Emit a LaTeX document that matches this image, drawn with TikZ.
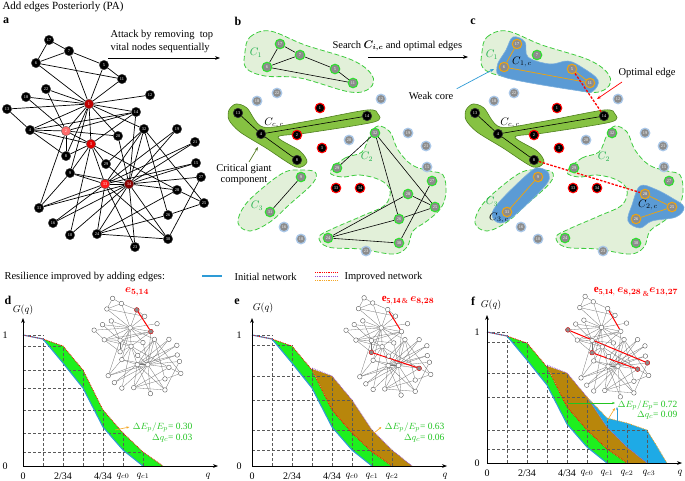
\documentclass[tikz,border=0pt]{standalone}
\usepackage{fontspec}
\setmainfont{Liberation Serif}
\usepackage{amsmath}
\usepackage{amssymb}
\usepackage{tikz}
\usetikzlibrary{arrows.meta}
\usetikzlibrary{positioning}
\pgfdeclarelayer{blobs}
\pgfdeclarelayer{links}
\pgfsetlayers{blobs,links,main}
\definecolor{redA}{HTML}{C00000}
\definecolor{redB}{HTML}{FF6A6A}
\definecolor{redC}{HTML}{E00000}
\definecolor{redD}{HTML}{FF1A1A}
\definecolor{redE}{HTML}{8B0000}
\definecolor{nodegray}{HTML}{8C8C8C}
\definecolor{ringgreen}{HTML}{2EE02E}
\definecolor{ringblue}{HTML}{A9C7E8}
\definecolor{ringorange}{HTML}{E8A317}
\definecolor{blobgreen}{HTML}{E2F0D9}
\definecolor{blobdark}{HTML}{86C242}
\definecolor{blobdarkedge}{HTML}{4F7F1F}
\definecolor{blobblue}{HTML}{5B9BD5}
\definecolor{dashgreen}{HTML}{3DCC3D}
\definecolor{fillgreen}{HTML}{1EF01E}
\definecolor{fillbrown}{HTML}{B8860B}
\definecolor{fillblue}{HTML}{1EAAE6}
\definecolor{lineblue}{HTML}{2E9BD6}
\definecolor{linepurple}{HTML}{9B59D0}
\definecolor{lineorange}{HTML}{F5A623}
\definecolor{txtgreen}{HTML}{22C422}
\definecolor{labgreen}{HTML}{1DB04A}
\definecolor{olive}{HTML}{5A7F2A}
\tikzset{knode/.style = {circle, inner sep=0, minimum size=9.5pt,
                         font=\fontsize{4.3}{4.5}\selectfont, text=white}}
\tikzset{anode/.style = {knode, draw=black!70, line width=0.3pt}}
\tikzset{remnode/.style = {knode, fill=black, draw=red, line width=1.1pt}}
\tikzset{gntnode/.style = {knode, fill=black, draw=black!80, line width=0.6pt}}
\tikzset{cmpnode/.style = {knode, fill=nodegray, draw=ringgreen, line width=1.1pt}}
\tikzset{isonode/.style = {knode, fill=nodegray, draw=ringblue, line width=1.3pt}}
\tikzset{cornode/.style = {knode, fill=nodegray, draw=ringorange, line width=1.1pt}}
\tikzset{inode/.style = {circle, inner sep=0, minimum size=4.6pt, fill=white,
                         draw=black!70, line width=0.35pt}}
\tikzset{hinode/.style = {inode, fill=nodegray, draw=red}}
\tikzset{kedge/.style = {line width=0.7pt}}
\tikzset{iedge/.style = {black!55, line width=0.3pt}}
\tikzset{hedge/.style = {red, line width=1pt}}
\tikzset{optedge/.style = {red, line width=1.3pt, dash pattern=on 2.5pt off 1.5pt}}
\tikzset{coreedge/.style = {ringorange, line width=0.8pt}}
\tikzset{lblob/.style = {fill=blobgreen, draw=dashgreen, line width=0.8pt,
                         dash pattern=on 5pt off 2.5pt}}
\tikzset{gblob/.style = {fill=blobdark, draw=blobdarkedge, line width=0.6pt}}
\tikzset{bblob/.style = {fill=blobblue, draw=blobblue!80!white, line width=0.6pt}}
\tikzset{lbl/.style = {font=\fontsize{10.5}{13}\selectfont}}
\tikzset{plabel/.style = {font=\fontsize{12}{12}\bfseries\selectfont}}
\tikzset{ticklbl/.style = {font=\fontsize{10}{11}\selectfont}}
\tikzset{gridline/.style = {black!65, line width=0.5pt, dash pattern=on 3pt off 2pt}}
\tikzset{axis/.style = {line width=0.6pt, -{Stealth[length=5pt]}}}
\tikzset{initcurve/.style = {lineblue, line width=1.1pt}}
\tikzset{redcurve/.style = {red, line width=0.8pt, densely dotted}}
\tikzset{purcurve/.style = {linepurple, line width=0.8pt, densely dotted}}
\tikzset{orcurve/.style = {lineorange, line width=0.8pt, densely dotted}}
\tikzset{annot/.style = {font=\fontsize{9.5}{10}\selectfont, text=txtgreen}}

% id / x / y (panel b) / fill in a / style in b / style in c
\def\kposlist{1/320/108/redA/remnode/remnode,2/297/135/redB/remnode/remnode,%
3/322/148/redC/remnode/remnode,4/261/134/black/gntnode/gntnode,%
5/335/69/black/cmpnode/cornode,6/267/67/black/cmpnode/cornode,%
7/300/55/black/cmpnode/cmpnode,8/297/160/black/gntnode/gntnode,%
9/301/177/black/cmpnode/cornode,10/301/239/black/isonode/isonode,%
11/353/83/black/cmpnode/cornode,12/381/99/black/isonode/isonode,%
13/238/113/black/gntnode/gntnode,14/367/116/black/gntnode/gntnode,%
15/427/167/black/isonode/isonode,16/284/227/black/isonode/isonode,%
17/280/44/black/cmpnode/cornode,18/257/101/black/isonode/isonode,%
19/408/133/black/isonode/isonode,20/349/140/black/isonode/isonode,%
21/426/146/black/isonode/isonode,22/277/93/black/isonode/isonode,%
23/366/251/black/isonode/isonode,24/328/238/black/cmpnode/cmpnode,%
25/435/207/black/cmpnode/cornode,26/399/219/black/cmpnode/cornode,%
27/432/181/black/cmpnode/cmpnode,28/408/194/black/cmpnode/cornode,%
29/337/168/black/cmpnode/cmpnode,30/399/243/black/cmpnode/cmpnode,%
31/270/212/black/cmpnode/cornode,32/375/133/black/cmpnode/cmpnode,%
33/336/188/redD/remnode/remnode,34/360/188/redE/remnode/remnode}
\def\kedges{1/2,1/3,1/4,1/5,1/6,1/7,1/8,1/9,1/11,1/12,1/13,1/14,1/18,1/20,1/22,1/32,%
2/3,2/4,2/8,2/14,2/18,2/20,2/22,2/31,3/4,3/8,3/9,3/10,3/14,3/28,3/29,3/33,%
4/8,4/13,4/14,5/7,5/11,6/7,6/11,6/17,7/17,9/31,9/33,9/34,10/34,14/34,%
15/33,15/34,16/33,16/34,19/33,19/34,20/34,21/33,21/34,23/33,23/34,%
24/26,24/28,24/30,24/33,24/34,25/26,25/28,25/32,26/32,27/30,27/34,28/34,%
29/32,29/34,30/33,30/34,31/33,31/34,32/33,32/34,33/34}
\def\blobCone{(245,52) (250,37) (270,31) (305,45) (352,60) (372,75) (370,88)
  (350,92) (300,78) (265,76) (246,68)}
\def\blobCtwo{(330,172) (345,158) (362,152) (370,135) (378,126) (390,132) (398,150)
  (412,165) (430,171) (443,175) (446,192) (441,208) (427,221) (413,231) (407,247)
  (393,254) (360,249) (328,247) (319,237) (332,229) (362,216) (385,205) (390,190)
  (380,180) (360,175) (342,177)}
\def\blobCthree{(300,170) (315,172) (313,183) (290,204) (270,222) (250,231) (238,223)
  (245,205) (265,186) (285,172)}
\def\blobGiant{(229,110) (236,104) (247,108) (263,127) (303,122) (367,110) (378,114)
  (374,122) (307,133) (278,137) (300,151) (307,162) (296,167) (266,148) (240,132) (229,120)}

\begin{document}
\begin{tikzpicture}[x=1pt, y=-1pt]
  \useasboundingbox (0,0) rectangle (685,480);

  % headings and panel letters
  \node[anchor=west, font=\fontsize{11}{13}\selectfont] (title) at (-1,7) {Add edges Posteriorly (PA)};
  \node[plabel] (pa) at (6,21) {a};
  \node[plabel] (pb) at (238,21) {b};
  \node[plabel] (pc) at (473,22) {c};
  \node[plabel] (pd) at (8,300) {d};
  \node[plabel] (pe) at (237,302) {e};
  \node[plabel] (pf) at (473,301) {f};

  % panel a
  \foreach \i/\x/\y/\ac/\bs/\cs in \kposlist
    \node[anode, fill=\ac] (a\i) at (\x-231,\y-4) {\i};
  \begin{pgfonlayer}{links}
    \foreach \u/\v in \kedges
      \draw[kedge] (a\u) -- (a\v);
  \end{pgfonlayer}
  \node[lbl, anchor=north west, align=left] (attack) at (107,27)
    {Attack by removing~ top\\vital nodes sequentially};
  \coordinate (attS) at (108,58);
  \coordinate (attE) at (220,58);
  \draw[-{Stealth[length=5pt]}, line width=0.6pt] (attS) -- (attE);

  % panel b
  \foreach \i/\x/\y/\ac/\bs/\cs in \kposlist
    \node[\bs] (b\i) at (\x,\y) {\i};
  \begin{pgfonlayer}{links}
    \foreach \u/\v in {5/7,5/11,6/7,6/11,6/17,7/17,4/8,4/13,4/14,9/31,24/26,24/28,
                       24/30,25/26,25/28,25/32,26/32,27/30,29/32}
      \draw[line width=0.6pt] (b\u) -- (b\v);
  \end{pgfonlayer}
  \begin{pgfonlayer}{blobs}
    \path[lblob] plot[smooth cycle, tension=0.6] coordinates {\blobCone};
    \path[lblob] plot[smooth cycle, tension=0.6] coordinates {\blobCtwo};
    \path[lblob] plot[smooth cycle, tension=0.6] coordinates {\blobCthree};
    \path[gblob] plot[smooth cycle, tension=0.5] coordinates {\blobGiant};
  \end{pgfonlayer}
  \node[lbl, text=labgreen] (bC1) at (256,53) {$C_1$};
  \node[lbl] (bCc) at (274,123) {$C_{c,\,c}$};
  \node[lbl, text=labgreen] (bC2) at (367,157) {$C_2$};
  \node[lbl, text=labgreen] (bC3) at (257,206) {$C_3$};
  \node[lbl, align=center] (crit) at (244,174) {Critical giant\\[-2pt]component};
  \coordinate (critS) at (249,162);
  \coordinate (critE) at (258,147);
  \draw[-{Stealth[length=4pt]}, olive, line width=0.7pt] (critS) -- (critE);
  \node[lbl, anchor=west] (search) at (329,46) {Search $\boldsymbol{C_{i,c}}$ and optimal edges};
  \coordinate (srchS) at (368,57);
  \coordinate (srchE) at (468,57);
  \draw[-{Stealth[length=5pt]}, line width=0.6pt] (srchS) -- (srchE);

  % panel c
  \foreach \i/\x/\y/\ac/\bs/\cs in \kposlist
    \node[\cs] (c\i) at (\x+237,\y) {\i};
  \begin{pgfonlayer}{links}
    \foreach \u/\v in {4/8,4/13,4/14}
      \draw[line width=0.6pt] (c\u) -- (c\v);
    \foreach \u/\v in {5/11,6/11,6/17,9/31,25/26,25/28}
      \draw[coreedge] (c\u) -- (c\v);
    \draw[optedge] (c5) -- (c14);
    \draw[optedge] (c8) -- (c28);
  \end{pgfonlayer}
  \begin{pgfonlayer}{blobs}
    \begin{scope}[shift={(237,0)}]
      \path[lblob] plot[smooth cycle, tension=0.6] coordinates {\blobCone};
      \path[lblob] plot[smooth cycle, tension=0.6] coordinates {\blobCtwo};
      \path[lblob] plot[smooth cycle, tension=0.6] coordinates {\blobCthree};
      \path[gblob] plot[smooth cycle, tension=0.5] coordinates {\blobGiant};
    \end{scope}
    \path[bblob] plot[smooth cycle, tension=0.6] coordinates {(513,37) (525,42) (528,57)
      (550,64) (568,61) (583,68) (598,80) (593,91) (580,91) (507,78) (497,67) (506,50)};
    \path[bblob] plot[smooth cycle, tension=0.6] coordinates {(640,186) (655,189) (672,198)
      (684,207) (676,217) (652,221) (640,228) (628,221) (632,205)};
    \path[bblob] plot[smooth cycle, tension=0.6] coordinates {(540,168) (549,174) (545,186)
      (515,215) (500,223) (492,215) (500,201) (530,172)};
  \end{pgfonlayer}
  \node[lbl, text=labgreen] (cC1) at (492,55) {$C_1$};
  \node[lbl] (cC1c) at (522,62) {$C_{1,\,c}$};
  \node[lbl] (cCc) at (510,123) {$C_{c,\,c}$};
  \node[lbl, text=labgreen] (cC2) at (604,157) {$C_2$};
  \node[lbl] (cC2c) at (648,205) {$C_{2,\,c}$};
  \node[lbl, text=labgreen] (cC3) at (492,202) {$C_3$};
  \node[lbl] (cC3c) at (499,218) {$C_{3,\,c}$};
  \node[lbl] (weak) at (431,96) {Weak core};
  \coordinate (weakE) at (494,69);
  \draw[-{Stealth[length=4pt]}, lineblue, line width=0.7pt] (weak.north east) -- (weakE);
  \node[lbl] (optim) at (647,73) {Optimal edge};
  \coordinate (optE) at (597,99);
  \draw[-{Stealth[length=4pt]}, red, line width=0.7pt] (622,82) -- (optE);

  % legend
  \node[lbl, anchor=west] (leg) at (1,277) {Resilience improved by adding edges:};
  \coordinate (legA) at (202,276);
  \coordinate (legB) at (222,276);
  \draw[initcurve] (legA) -- (legB);
  \node[lbl, anchor=west] (legI) at (231,277) {Initial network};
  \draw[redcurve] (315,272) -- (337,272);
  \draw[purcurve] (315,276) -- (337,276);
  \draw[orcurve] (315,280) -- (337,280);
  \node[lbl, anchor=west] (legP) at (341,277) {Improved network};

  % insets
  \foreach \i/\x/\y/\ac/\bs/\cs in \kposlist {
    \node[inode] (d\i) at (91+0.44*\x-101.6, 280+0.46*\y-1.84) {};
    \node[inode] (e\i) at (343+0.43*\x-99.3, 279+0.47*\y-1.88) {};
    \node[inode] (f\i) at (565+0.41*\x-94.7, 277+0.485*\y-1.94) {};
  }
  \begin{pgfonlayer}{links}
    \foreach \u/\v in \kedges {
      \draw[iedge] (d\u) -- (d\v);
      \draw[iedge] (e\u) -- (e\v);
      \draw[iedge] (f\u) -- (f\v);
    }
    \draw[hedge] (d5) -- (d14);
    \draw[hedge] (e5) -- (e14);
    \draw[hedge] (e8) -- (e28);
    \draw[hedge] (f5) -- (f14);
    \draw[hedge] (f8) -- (f28);
    \draw[hedge] (f13) -- (f27);
  \end{pgfonlayer}
  \node[hinode] (d5h) at (d5) {};
  \node[hinode] (d14h) at (d14) {};
  \node[hinode] (e8h) at (e8) {};
  \node[hinode] (e28h) at (e28) {};
  \node[hinode] (f13h) at (f13) {};
  \node[hinode] (f27h) at (f27) {};
  \node[hinode] (f8h) at (f8) {};
  \node[hinode] (f28h) at (f28) {};
  \node[text=red, font=\fontsize{11}{12}\selectfont] (dtag) at (137,292) {$\boldsymbol{e_{5,14}}$};
  \node[text=red, font=\fontsize{11}{12}\selectfont] (etag) at (408,301)
    {$\mathbf{e}_{\mathbf{5,14\,\&}}\,\boldsymbol{e_{8,28}}$};
  \node[text=red, font=\fontsize{11}{12}\selectfont] (ftag) at (636,292)
    {$\mathbf{e}_{\mathbf{5,14,}}\,\boldsymbol{e_{8,28}}_{\,\&}\boldsymbol{e_{13,27}}$};

  % panel d
  \begin{scope}[shift={(23,466)}, yscale=-1]
    \fill[fillgreen] (20,127) -- (40,120) -- (60,96) -- (80,56) -- (100,33) -- (120,14) -- (140,0)
      -- (120,0) -- (100,16) -- (80,39) -- (60,78) -- (40,103) -- cycle;
    \foreach \k/\v in {20/131,40/120,60/96,80/56,100/33,120/14}
      \draw[gridline] (\k,0) -- (\k,\v);
    \foreach \k/\v in {20/131,40/120,60/96,60/78,80/56,100/33,120/14}
      \draw[gridline] (0,\v) -- (\k,\v);
    \draw[initcurve] (0,131) -- (20,127) -- (40,103) -- (60,78) -- (80,39) -- (100,16) -- (120,0);
    \draw[redcurve] (0,131) -- (20,127) -- (40,120) -- (60,96) -- (80,56) -- (100,33)
      -- (120,14) -- (140,0);
    \draw[axis] (0,0) -- (195,0);
    \draw[axis] (0,0) -- (0,148);
    \node[ticklbl] (dG) at (0,156) {$G(q)$};
    \node[ticklbl] (d1l) at (-18,131) {1};
    \node[ticklbl] (d0l) at (-18,0) {0};
    \node[ticklbl] (dx0) at (0,-10) {0};
    \node[ticklbl] (dx2) at (40,-10) {2/34};
    \node[ticklbl] (dx4) at (80,-10) {4/34};
    \node[ticklbl] (dxc0) at (100,-10) {$q_{c0}$};
    \node[ticklbl] (dxc1) at (120,-10) {$q_{c1}$};
    \node[ticklbl] (dxq) at (185,-10) {$q$};
    \node[annot, anchor=east] (dEp) at (173,39) {$\Delta E_p/E_p$= 0.30};
    \node[annot, anchor=east] (dqc) at (173,28) {$\Delta q_c$= 0.03};
    \coordinate (dArr) at (dEp.west);
    \draw[-{Stealth[length=3pt]}, lineorange, line width=0.6pt] (92,36) -- (dArr);
  \end{scope}

  % panel e
  \begin{scope}[shift={(252,466)}, yscale=-1]
    \fill[fillgreen] (20,127) -- (40,120) -- (60,96) -- (80,56) -- (100,33) -- (120,14) -- (140,0)
      -- (120,0) -- (100,16) -- (80,39) -- (60,78) -- (40,103) -- cycle;
    \fill[fillbrown] (60,97) -- (80,90) -- (100,66) -- (120,36) -- (140,16) -- (160,0)
      -- (140,0) -- (120,14) -- (100,33) -- (80,56) -- cycle;
    \foreach \k/\v in {20/131,40/121,60/98,80/90,100/66,120/36,140/16}
      \draw[gridline] (\k,0) -- (\k,\v);
    \foreach \k/\v in {20/131,40/121,80/90,100/66,120/36,140/16}
      \draw[gridline] (0,\v) -- (\k,\v);
    \draw[initcurve] (0,131) -- (20,127) -- (40,103) -- (60,78) -- (80,39) -- (100,16) -- (120,0);
    \draw[redcurve] (0,131) -- (20,127) -- (40,120) -- (60,96) -- (80,56) -- (100,33)
      -- (120,14) -- (140,0);
    \draw[purcurve] (60,98) -- (80,90) -- (100,66) -- (120,36) -- (140,16) -- (160,0);
    \draw[axis] (0,0) -- (195,0);
    \draw[axis] (0,0) -- (0,148);
    \node[ticklbl] (eG) at (11,158) {$G(q)$};
    \node[ticklbl] (e1l) at (-13,131) {1};
    \node[ticklbl] (e0l) at (-13,0) {0};
    \node[ticklbl] (ex0) at (0,-10) {0};
    \node[ticklbl] (ex2) at (40,-10) {2/34};
    \node[ticklbl] (ex4) at (80,-10) {4/34};
    \node[ticklbl] (exc0) at (100,-10) {$q_{c0}$};
    \node[ticklbl] (exc1) at (120,-10) {$q_{c1}$};
    \node[ticklbl] (exc2) at (140,-10) {$q_{c2}$};
    \node[ticklbl] (exq) at (193,-10) {$q$};
    \node[annot, anchor=east] (eEp) at (196,39) {$\Delta E_p/E_p$= 0.63};
    \node[annot, anchor=east] (eqc) at (196,28) {$\Delta q_c$= 0.06};
    \coordinate (eArr) at (eEp.west);
    \draw[-{Stealth[length=3pt]}, lineorange, line width=0.6pt] (122,33) -- (eArr);
  \end{scope}

  % panel f
  \begin{scope}[shift={(487,463)}, yscale=-1]
    \fill[fillgreen] (20,127) -- (40,120) -- (60,96) -- (80,56) -- (100,33) -- (120,14) -- (140,0)
      -- (120,0) -- (100,16) -- (80,39) -- (60,78) -- (40,103) -- cycle;
    \fill[fillbrown] (60,97) -- (80,90) -- (100,66) -- (120,36) -- (140,16) -- (160,0)
      -- (140,0) -- (120,14) -- (100,33) -- (80,56) -- cycle;
    \fill[fillblue] (100,66) -- (120,45) -- (140,40) -- (160,33) -- (180,0)
      -- (160,0) -- (140,16) -- (120,36) -- cycle;
    \foreach \k/\v in {20/131,40/121,60/98,80/90,100/66,120/45,140/40,160/33}
      \draw[gridline] (\k,0) -- (\k,\v);
    \foreach \k/\v in {20/131,40/121,80/90,100/66,160/33,140/14}
      \draw[gridline] (0,\v) -- (\k,\v);
    \draw[initcurve] (0,131) -- (20,127) -- (40,103) -- (60,78) -- (80,39) -- (100,16) -- (120,0);
    \draw[redcurve] (0,131) -- (20,127) -- (40,120) -- (60,96) -- (80,56) -- (100,33)
      -- (120,14) -- (140,0);
    \draw[purcurve] (60,98) -- (80,90) -- (100,66) -- (120,36) -- (140,16) -- (160,0);
    \draw[orcurve] (100,66) -- (120,45) -- (140,40) -- (160,33) -- (180,0);
    \draw[axis] (0,0) -- (195,0);
    \draw[axis] (0,0) -- (0,148);
    \node[ticklbl] (fG) at (4,158) {$G(q)$};
    \node[ticklbl] (f1l) at (-10,131) {1};
    \node[ticklbl] (f0l) at (-10,0) {0};
    \node[ticklbl] (fx0) at (0,-10) {0};
    \node[ticklbl] (fx2) at (40,-10) {2/34};
    \node[ticklbl] (fx4) at (80,-10) {4/34};
    \node[ticklbl] (fxc0) at (100,-10) {$q_{c0}$};
    \node[ticklbl] (fxc1) at (120,-10) {$q_{c1}$};
    \node[ticklbl] (fxc2) at (140,-10) {$q_{c2}$};
    \node[ticklbl] (fxc3) at (162,-10) {$q_{c3}$};
    \node[ticklbl] (fxq) at (193,-10) {$q$};
    \node[annot, anchor=east] (fEp) at (194,58) {$\Delta E_p/E_p$= 0.72};
    \node[annot, anchor=east] (fqc) at (194,48) {$\Delta q_c$= 0.09};
    \coordinate (fArrG) at (128,60);
    \coordinate (fArrB) at (130,56);
    \coordinate (fArrO) at (128,55);
    \draw[-{Stealth[length=3pt]}, txtgreen, line width=0.5pt] (81,60) -- (fArrG);
    \draw[-{Stealth[length=3pt]}, lineblue, line width=0.6pt] (130,40) -- (fArrB);
    \draw[-{Stealth[length=3pt]}, lineorange, line width=0.6pt] (120,42) -- (fArrO);
  \end{scope}
\end{tikzpicture}
\end{document}
